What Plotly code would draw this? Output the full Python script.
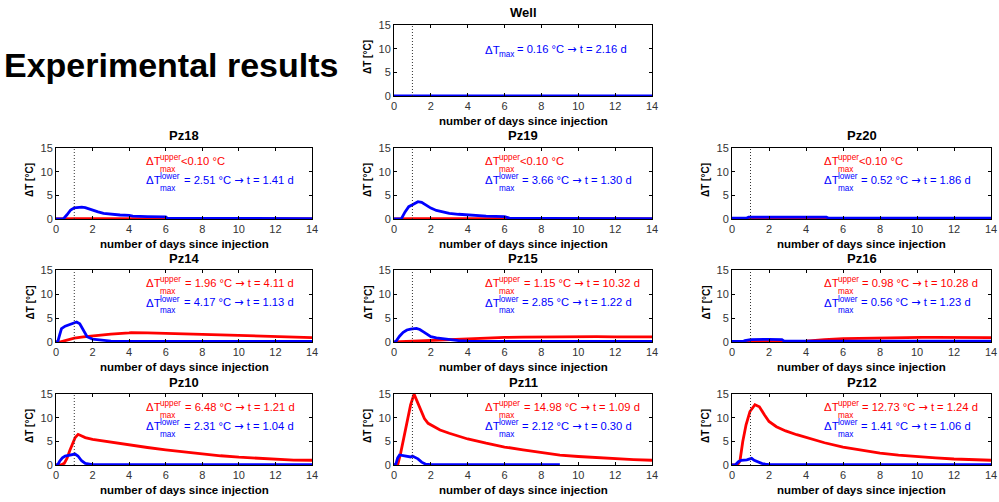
import plotly.graph_objects as go

# ---------------- data ----------------
well_t = [0, 0.5, 0.9, 1.0, 1.5, 2.16, 3, 4, 5, 5.1, 6, 8, 10, 12.3, 12.4, 12.8, 12.9, 14]
well_v = [0.02, 0.02, 0.03, 0.10, 0.13, 0.16, 0.14, 0.12, 0.12, 0.03, 0.03, 0.03, 0.03, 0.03, 0.12, 0.12, 0.03, 0.03]

pz18_red_t = [0, 0.4, 1, 2, 3, 4, 5, 6, 8, 10, 14]
pz18_red_v = [0, 0.05, 0.08, 0.08, 0.07, 0.06, 0.05, 0.02, 0.02, 0.02, 0.02]
pz18_blue_t = [0, 0.4, 0.6, 0.8, 1.0, 1.2, 1.41, 1.6, 1.8, 2.0, 2.3, 2.6, 3.0, 3.5, 4.0, 4.2, 5, 6, 6.1, 8, 10, 12, 14]
pz18_blue_v = [0, 0.02, 0.9, 1.9, 2.35, 2.5, 2.51, 2.4, 2.1, 1.8, 1.5, 1.2, 1.0, 0.85, 0.75, 0.6, 0.5, 0.45, 0.15, 0.12, 0.1, 0.1, 0.1]

pz19_red_t = [0, 0.4, 1, 2, 3, 4, 5, 5.5, 8, 14]
pz19_red_v = [0, 0.08, 0.08, 0.08, 0.08, 0.07, 0.05, 0.02, 0.02, 0.02]
pz19_blue_t = [0, 0.4, 0.6, 0.8, 1.0, 1.15, 1.3, 1.5, 1.7, 2.0, 2.3, 2.6, 3.0, 3.5, 4.0, 4.5, 5, 6, 6.3, 8, 10, 12, 14]
pz19_blue_v = [0, 0.05, 1.5, 2.6, 3.0, 3.4, 3.66, 3.5, 3.0, 2.3, 1.8, 1.5, 1.2, 1.0, 0.85, 0.75, 0.6, 0.5, 0.15, 0.12, 0.1, 0.1, 0.1]

pz20_red_t = [0, 1.3, 1.4, 3.0, 3.1, 4.0, 4.1, 14]
pz20_red_v = [0, 0, 0.1, 0.1, 0.05, 0.05, 0, 0]
pz20_blue_t = [0, 0.8, 0.9, 1.3, 1.4, 3.2, 3.3, 5.1, 5.2, 8, 10, 12, 14]
pz20_blue_v = [0.2, 0.2, 0.4, 0.4, 0.52, 0.52, 0.4, 0.4, 0.2, 0.2, 0.2, 0.2, 0.2]

pz14_red_t = [0, 0.2, 0.5, 1.0, 1.5, 2, 3, 4, 4.11, 5, 6, 7, 8, 9, 10, 11, 12, 13, 14]
pz14_red_v = [0, 0, 0.3, 0.8, 1.05, 1.3, 1.65, 1.9, 1.96, 1.9, 1.85, 1.75, 1.6, 1.5, 1.35, 1.25, 1.1, 1.0, 0.9]
pz14_blue_t = [0, 0.1, 0.2, 0.3, 0.5, 0.7, 0.9, 1.13, 1.3, 1.5, 1.7, 2.0, 2.5, 3.0, 4, 6, 8, 10, 14]
pz14_blue_v = [0, 0.1, 1.5, 2.8, 3.3, 3.6, 3.9, 4.17, 3.8, 2.4, 1.1, 0.6, 0.35, 0.2, 0.12, 0.1, 0.1, 0.1, 0.1]

pz15_red_t = [0, 0.3, 0.6, 1, 2, 3, 4, 5, 6, 7, 8, 9, 10, 10.32, 11, 12, 13, 14]
pz15_red_v = [0, 0.05, 0.1, 0.2, 0.25, 0.4, 0.6, 0.8, 0.95, 1.0, 1.05, 1.1, 1.12, 1.15, 1.1, 1.08, 1.05, 1.05]
pz15_blue_t = [0, 0.1, 0.3, 0.5, 0.7, 0.9, 1.22, 1.4, 1.6, 1.8, 2.0, 2.3, 2.6, 3.0, 3.5, 4, 6, 8, 10, 14]
pz15_blue_v = [0, 0.1, 1.2, 2.0, 2.5, 2.7, 2.85, 2.6, 2.1, 1.6, 1.1, 0.85, 0.7, 0.5, 0.3, 0.2, 0.1, 0.1, 0.1, 0.1]

pz16_red_t = [0, 1, 2, 3, 4, 4.5, 5, 6, 7, 8, 9, 10.28, 11, 12, 13, 14]
pz16_red_v = [0, 0.1, 0.1, 0.15, 0.2, 0.4, 0.5, 0.7, 0.8, 0.9, 0.95, 0.98, 0.95, 0.95, 0.9, 0.9]
pz16_blue_t = [0, 0.6, 0.7, 1.0, 2.0, 2.7, 2.8, 4, 6, 8, 10, 12, 14]
pz16_blue_v = [0.1, 0.1, 0.3, 0.5, 0.56, 0.5, 0.25, 0.2, 0.2, 0.2, 0.2, 0.2, 0.2]

pz10_red_t = [0, 0.3, 0.45, 0.6, 0.75, 0.9, 1.05, 1.21, 1.35, 1.6, 2.0, 2.5, 3, 4, 5, 6, 7, 8, 9, 10, 11, 12, 13, 14]
pz10_red_v = [0, 0.05, 0.35, 1.4, 3.0, 4.6, 5.8, 6.48, 6.2, 5.8, 5.4, 5.1, 4.8, 4.2, 3.7, 3.2, 2.75, 2.3, 1.95, 1.65, 1.4, 1.2, 1.05, 1.0]
pz10_blue_t = [0, 0.1, 0.2, 0.35, 0.5, 0.7, 0.9, 1.04, 1.2, 1.4, 1.6, 1.8, 2.0, 3, 6, 10, 14]
pz10_blue_v = [0, 0.1, 0.8, 1.5, 1.9, 2.1, 2.2, 2.31, 1.9, 0.9, 0.35, 0.15, 0.1, 0.1, 0.1, 0.1, 0.1]

pz11_red_t = [0, 0.2, 0.35, 0.5, 0.7, 0.9, 1.09, 1.25, 1.45, 1.65, 1.85, 2.0, 2.5, 3, 3.5, 4, 5, 6, 7, 8, 9, 10, 11, 12, 13, 14]
pz11_red_v = [0, 0.05, 2.3, 5.2, 9.0, 12.7, 14.98, 13.5, 11.6, 9.8, 8.8, 8.5, 7.4, 6.7, 6.1, 5.5, 4.6, 3.8, 3.2, 2.6, 2.1, 1.8, 1.55, 1.35, 1.15, 1.0]
pz11_blue_t = [0, 0.1, 0.2, 0.3, 0.5, 0.7, 0.9, 1.0, 1.1, 1.3, 1.5, 1.7, 2.0, 4, 6, 8, 9]
pz11_blue_v = [0, 0.2, 1.5, 2.12, 2.0, 1.8, 1.7, 1.9, 1.7, 1.3, 0.6, 0.2, 0.1, 0.1, 0.1, 0.1, 0.1]

pz12_red_t = [0, 0.3, 0.43, 0.58, 0.76, 0.97, 1.24, 1.48, 1.75, 2.0, 2.4, 2.9, 3.5, 4, 5, 6, 7, 8, 9, 10, 11, 12, 13, 14]
pz12_red_v = [0, 0.05, 0.85, 4.9, 8.5, 11.3, 12.73, 12.3, 10.6, 9.2, 8.1, 7.2, 6.4, 5.8, 4.7, 3.8, 3.1, 2.5, 2.1, 1.75, 1.5, 1.27, 1.1, 1.0]
pz12_blue_t = [0, 0.2, 0.35, 0.5, 0.8, 1.06, 1.2, 1.4, 1.6, 1.8, 2.0, 4, 8, 14]
pz12_blue_v = [0, 0.1, 0.7, 1.0, 1.1, 1.41, 1.0, 0.6, 0.35, 0.2, 0.1, 0.1, 0.1, 0.1]

ARROW = '<span style="font-family:DejaVu Sans">→</span>'
panel_names = ["Well", "Pz18", "Pz19", "Pz20", "Pz14", "Pz15", "Pz16", "Pz10", "Pz11", "Pz12"]
upper_texts = [None, "<0.10 °C", "<0.10 °C", "<0.10 °C",
               "= 1.96 °C → t = 4.11 d", "= 1.15 °C → t = 10.32 d", "= 0.98 °C → t = 10.28 d",
               "= 6.48 °C → t = 1.21 d", "= 14.98 °C → t = 1.09 d", "= 12.73 °C → t = 1.24 d"]
lower_texts = ["= 0.16 °C → t = 2.16 d",
               "= 2.51 °C → t = 1.41 d", "= 3.66 °C → t = 1.30 d", "= 0.52 °C → t = 1.86 d",
               "= 4.17 °C → t = 1.13 d", "= 2.85 °C → t = 1.22 d", "= 0.56 °C → t = 1.23 d",
               "= 2.31 °C → t = 1.04 d", "= 2.12 °C → t = 0.30 d", "= 1.41 °C → t = 1.06 d"]
injection_day = 1
x_ticks = [0, 2, 4, 6, 8, 10, 12, 14]
y_ticks = [0, 5, 10, 15]

red_series = [None, (pz18_red_t, pz18_red_v), (pz19_red_t, pz19_red_v), (pz20_red_t, pz20_red_v),
              (pz14_red_t, pz14_red_v), (pz15_red_t, pz15_red_v), (pz16_red_t, pz16_red_v),
              (pz10_red_t, pz10_red_v), (pz11_red_t, pz11_red_v), (pz12_red_t, pz12_red_v)]
blue_series = [(well_t, well_v), (pz18_blue_t, pz18_blue_v), (pz19_blue_t, pz19_blue_v), (pz20_blue_t, pz20_blue_v),
               (pz14_blue_t, pz14_blue_v), (pz15_blue_t, pz15_blue_v), (pz16_blue_t, pz16_blue_v),
               (pz10_blue_t, pz10_blue_v), (pz11_blue_t, pz11_blue_v), (pz12_blue_t, pz12_blue_v)]

# ---------------- layout geometry (pixels) ----------------
W, H = 999, 502
col_px = [(56, 312), (394, 652), (732, 991)]
row_px = [(25, 96), (148, 219), (270, 342), (394, 465)]
panel_pos = [(0, 1), (1, 0), (1, 1), (1, 2), (2, 0), (2, 1), (2, 2), (3, 0), (3, 1), (3, 2)]

FONT = "Liberation Sans, Arial, Helvetica, sans-serif"
RED = "#ff0000"
BLUE = "#0000ff"

fig = go.Figure()
layout = dict(
    width=W, height=H, margin=dict(l=0, r=0, t=0, b=0),
    paper_bgcolor="white", plot_bgcolor="white", showlegend=False,
    font=dict(family=FONT, color="black"),
)
annotations = []
shapes = []

for i, name in enumerate(panel_names):
    n = i + 1
    sfx = "" if n == 1 else str(n)
    r, c = panel_pos[i]
    x0, x1 = col_px[c]
    y0, y1 = row_px[r]
    axis_common = dict(showline=True, linecolor="black", linewidth=1, mirror="ticks",
                       ticks="inside", ticklen=3, tickcolor="black", showgrid=False,
                       zeroline=False, automargin=False,
                       tickfont=dict(size=11, color="#333333", family=FONT))
    layout["xaxis" + sfx] = dict(axis_common, domain=[x0 / W, x1 / W], range=[0, 14],
                                 tickvals=x_ticks, anchor="y" + sfx)
    layout["yaxis" + sfx] = dict(axis_common, domain=[1 - y1 / H, 1 - y0 / H], range=[0, 15],
                                 tickvals=y_ticks, anchor="x" + sfx)
    xr, yr = "x" + sfx, "y" + sfx

    if red_series[i] is not None:
        rt, rv = red_series[i]
        fig.add_trace(go.Scatter(x=rt, y=rv, mode="lines", xaxis=xr, yaxis=yr,
                                 line=dict(color=RED, width=2.8), hoverinfo="skip"))
    bt, bv = blue_series[i]
    fig.add_trace(go.Scatter(x=bt, y=bv, mode="lines", xaxis=xr, yaxis=yr,
                             line=dict(color=BLUE, width=2.8), hoverinfo="skip"))

    shapes.append(dict(type="line", xref=xr, yref=yr, x0=injection_day, x1=injection_day, y0=0, y1=15,
                       line=dict(color="#333333", width=1, dash="1px,2px")))

    # titles
    annotations.append(dict(text="<b>%s</b>" % name, xref=xr + " domain", yref=yr + " domain",
                            x=0.5, y=1, yshift=12, xanchor="center", yanchor="middle",
                            showarrow=False, font=dict(size=13, family=FONT, color="black")))
    annotations.append(dict(text="<b>number of days since injection</b>", xref=xr + " domain",
                            yref=yr + " domain", x=0.5, y=0, yshift=-24.5, xanchor="center",
                            yanchor="middle", showarrow=False, font=dict(size=11.5, family=FONT, color="black")))
    annotations.append(dict(text="<b>ΔT [°C]</b>", xref=xr + " domain", yref=yr + " domain",
                            x=0, y=0.55, xshift=-26, xanchor="center", yanchor="middle", textangle=-90,
                            showarrow=False, font=dict(size=10, family=FONT, color="black")))

    def label(yv, sup, sub, rest, color, sup_w, gap, sub_dy):
        base = dict(xref=xr, yref=yr, x=5, y=yv, xanchor="left", yanchor="middle", showarrow=False)
        annotations.append(dict(base, text="ΔT", xshift=-3, font=dict(size=11.5, family=FONT, color=color)))
        dT_w = 14.0
        if sup:
            annotations.append(dict(base, text=sup, xshift=-3 + dT_w, yshift=3.5,
                                    font=dict(size=8.2, family=FONT, color=color)))
        annotations.append(dict(base, text=sub, xshift=-3 + dT_w, yshift=sub_dy,
                                font=dict(size=8.2, family=FONT, color=color)))
        annotations.append(dict(base, text=rest.replace("→", ARROW), xshift=-3 + dT_w + sup_w + gap,
                                font=dict(size=11.2, family=FONT, color=color)))

    if upper_texts[i] is None:
        label(9.8, None, "max", lower_texts[i], BLUE, 15.0, 3.0, -4.5)
    else:
        gap = 0 if upper_texts[i].startswith("<") else 3.5
        label(12.2, "upper", "max", upper_texts[i], RED, 21.0, gap, -8.0)
        label(8.2, "lower", "max", lower_texts[i], BLUE, 19.8, 3.5, -8.0)

annotations.append(dict(text="<b>Experimental results</b>", xref="paper", yref="paper",
                        x=2 / W, y=1 - 65 / H, xanchor="left", yanchor="middle", showarrow=False,
                        font=dict(size=34, family=FONT, color="black")))

layout["annotations"] = annotations
layout["shapes"] = shapes
fig.update_layout(**layout)
fig.write_html("out.html", config={"displayModeBar": False},
               post_script="document.body.style.margin='0px';")
